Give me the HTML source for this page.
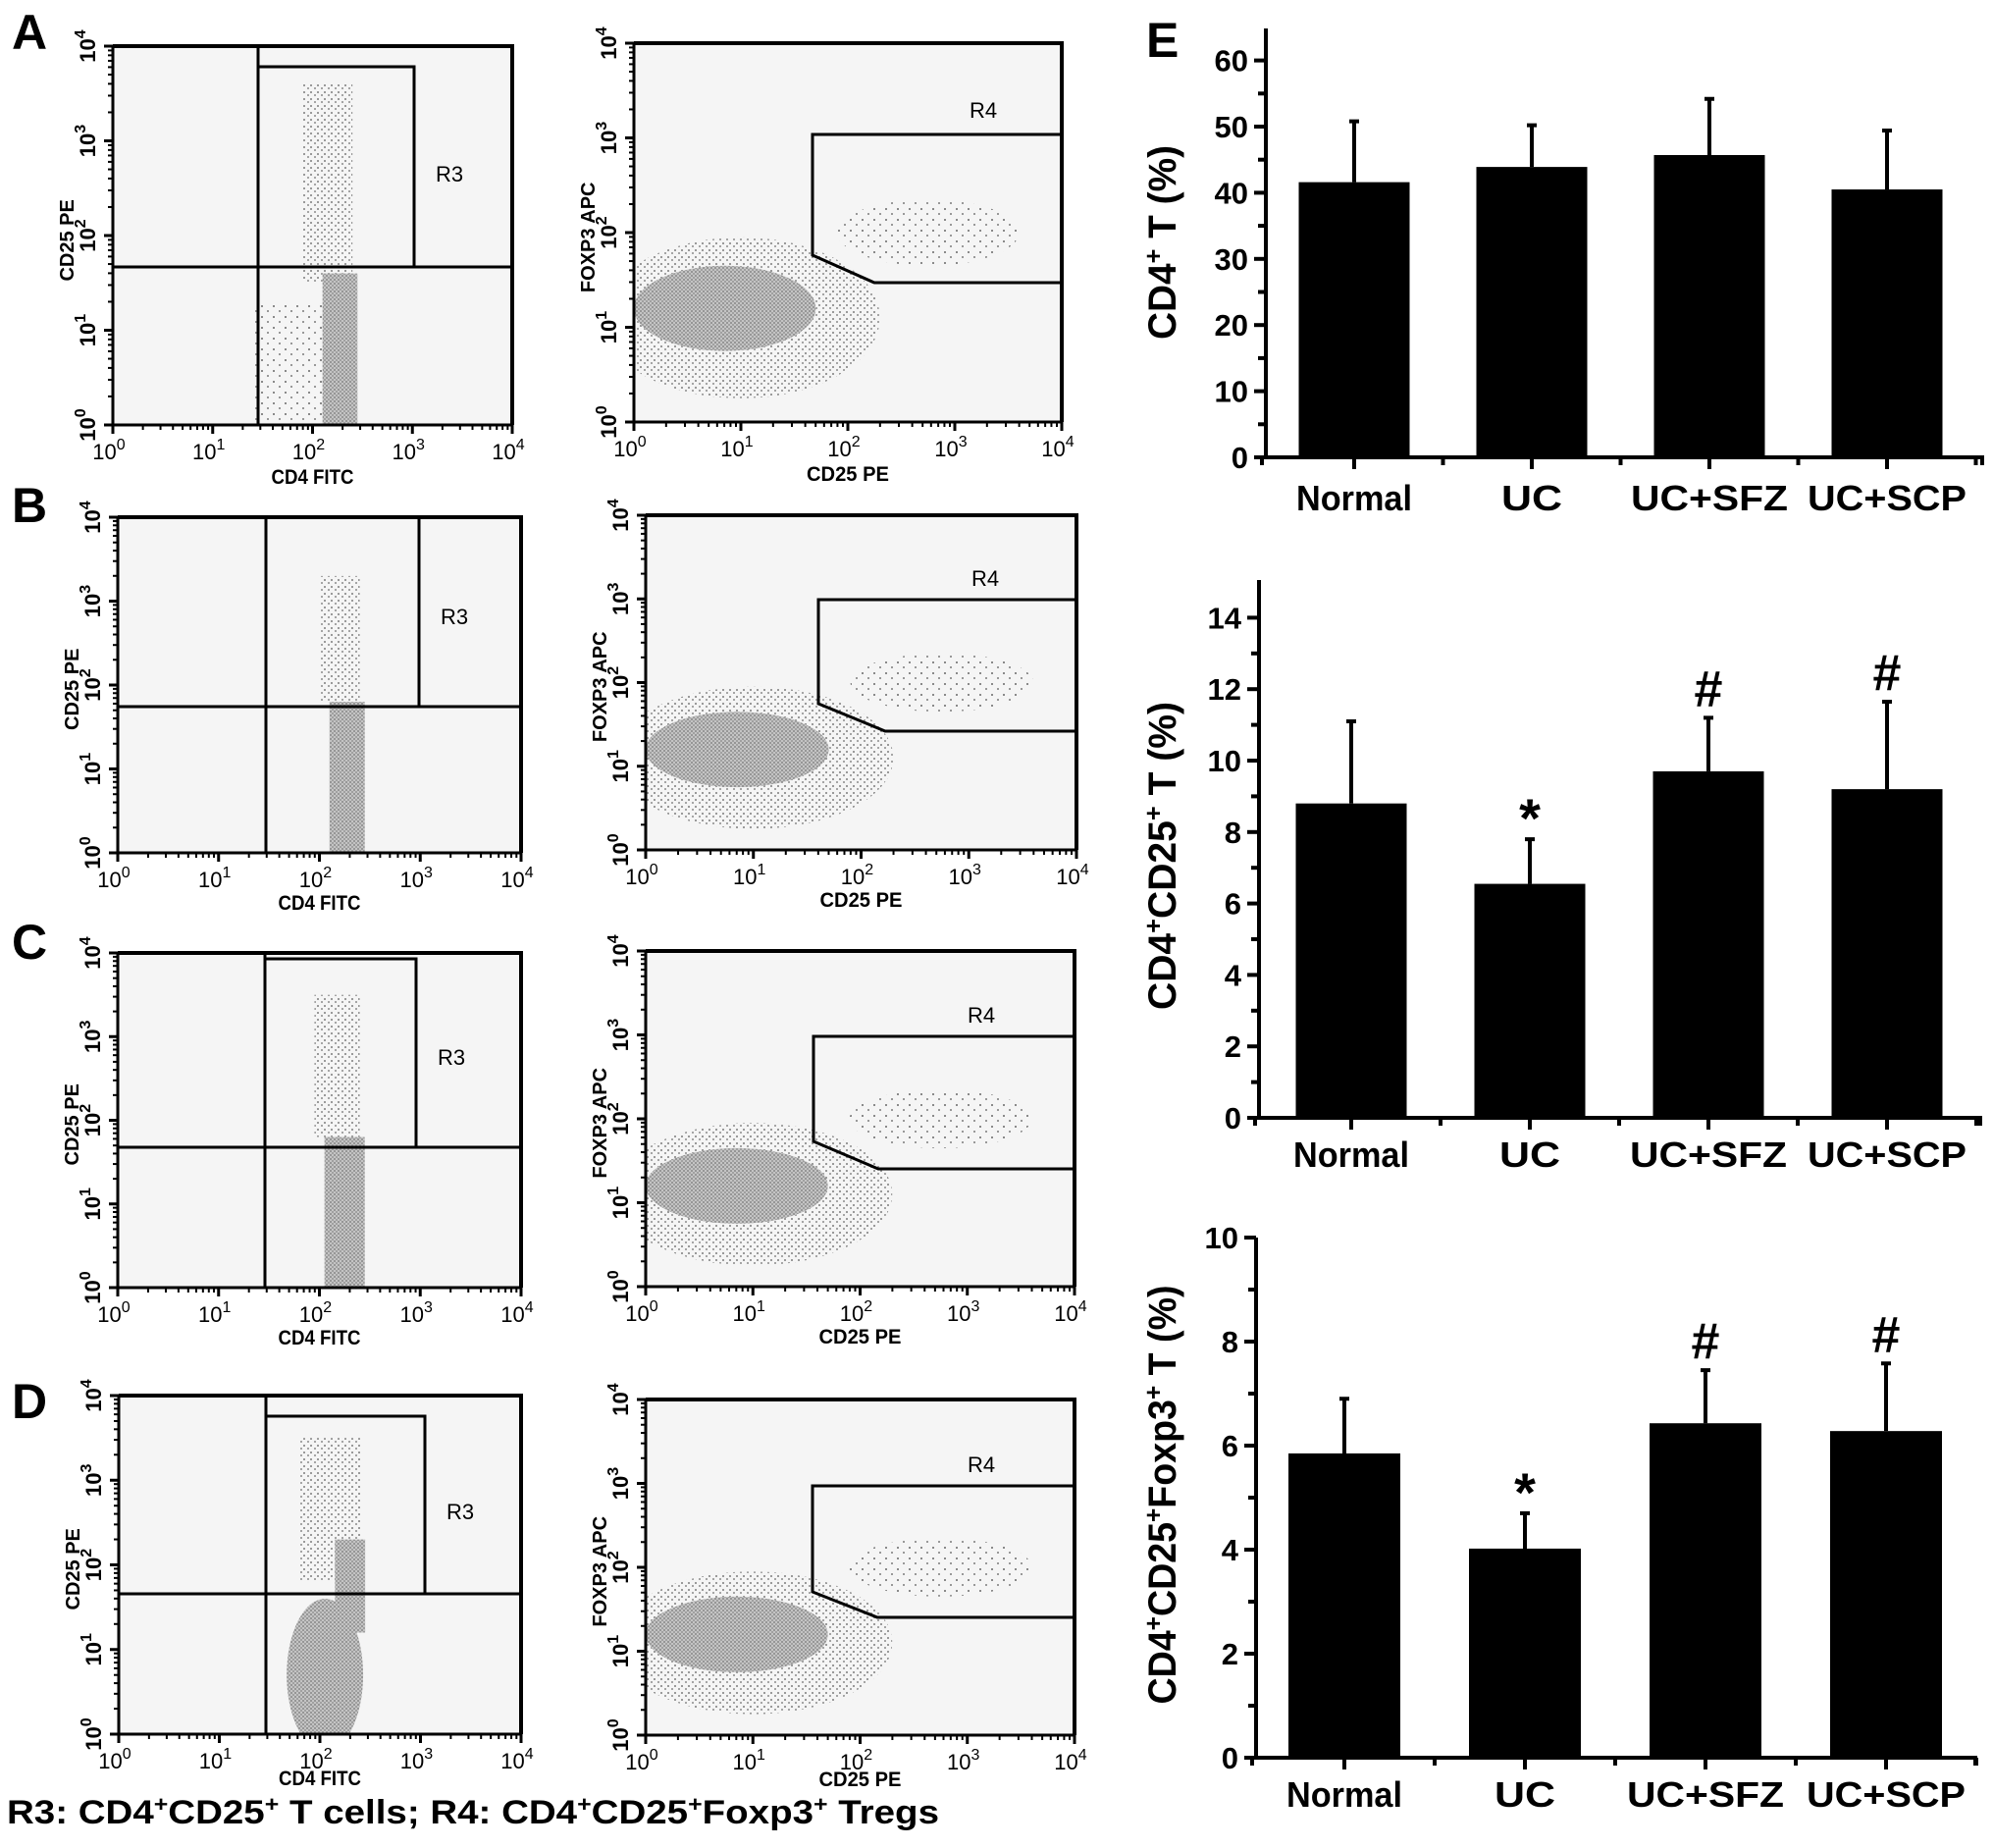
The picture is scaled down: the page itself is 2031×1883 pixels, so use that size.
<!DOCTYPE html>
<html><head><meta charset="utf-8"><style>
html,body{margin:0;padding:0;background:#fff;}
svg{display:block;}
text{font-family:"Liberation Sans",Arial,sans-serif;}
</style></head><body>
<svg id="fig" xmlns="http://www.w3.org/2000/svg" width="2031" height="1883" viewBox="0 0 2031 1883">
<defs id="defs">
<pattern id="sparse" width="7" height="7" patternUnits="userSpaceOnUse"><rect x="1" y="2" width="2" height="2" fill="#9a9a9a"/><rect x="5" y="5" width="2" height="2" fill="#a5a5a5"/></pattern>
<pattern id="dense" width="4" height="4" patternUnits="userSpaceOnUse"><rect width="4" height="4" fill="#c4c4c4"/><rect x="0" y="0" width="2" height="2" fill="#969696"/><rect x="2" y="2" width="2" height="2" fill="#a0a0a0"/></pattern>
<pattern id="vsparse" width="12" height="11" patternUnits="userSpaceOnUse"><rect x="2" y="3" width="2" height="2" fill="#8a8a8a"/><rect x="8" y="8" width="2" height="2" fill="#999"/></pattern>
</defs>
<g id="flow"></g>
<g id="bars"></g>
<text x="7" y="1858" font-size="34" font-weight="bold" textLength="950" lengthAdjust="spacingAndGlyphs">R3: CD4<tspan font-size="22" dy="-12">+</tspan><tspan dy="12">CD25</tspan><tspan font-size="22" dy="-12">+</tspan><tspan dy="12"> T cells;  R4: CD4</tspan><tspan font-size="22" dy="-12">+</tspan><tspan dy="12">CD25</tspan><tspan font-size="22" dy="-12">+</tspan><tspan dy="12">Foxp3</tspan><tspan font-size="22" dy="-12">+</tspan><tspan dy="12"> Tregs</tspan></text>
</svg>
<script>
// ---------- Bar chart data ----------
const categories = ["Normal", "UC", "UC+SFZ", "UC+SCP"];
const cd4Mean = [41.6, 43.9, 45.7, 40.5];
const cd4Err = [9.2, 6.3, 8.5, 8.9];
const cd4Ticks = [0, 10, 20, 30, 40, 50, 60];
const cd25Mean = [8.8, 6.55, 9.7, 9.2];
const cd25Err = [2.3, 1.25, 1.5, 2.45];
const cd25Ticks = [0, 2, 4, 6, 8, 10, 12, 14];
const cd25Sig = ["", "*", "#", "#"];
const tregMean = [5.85, 4.02, 6.43, 6.28];
const tregErr = [1.05, 0.68, 1.02, 1.3];
const tregTicks = [0, 2, 4, 6, 8, 10];
const tregSig = ["", "*", "#", "#"];
const decadeLabels = ["0", "1", "2", "3", "4"];

const NS = "http://www.w3.org/2000/svg";
function mk(tag, attrs, parent) {
  const e = document.createElementNS(NS, tag);
  for (const k in attrs) e.setAttribute(k, attrs[k]);
  parent.appendChild(e);
  return e;
}

// ---------- Bar charts ----------
const barsG = document.getElementById("bars");
function barChart(cfg, means, errs, ticks, sig, titleParts, name) {
  const g = mk("g", {}, barsG);
  
  
  const yScale = v => cfg.y0 - v * cfg.unit;
  const xScale = i => cfg.c0 + i * cfg.step;
  means.forEach((m, i) => {
    const r = mk("rect", {x: xScale(i) - cfg.bw / 2, y: yScale(m), width: cfg.bw, height: cfg.y0 - yScale(m), fill: "#000"}, g);
    
    
    const top = yScale(m + errs[i]);
    const eb = mk("path", {d: `M${xScale(i)} ${yScale(m)}V${top}M${xScale(i) - 5} ${top}H${xScale(i) + 5}`, stroke: "#000", "stroke-width": 4, fill: "none"}, g);
    
    
    if (sig && sig[i]) {
      const s = mk("text", {x: xScale(i), y: top - (sig[i] === "*" ? 2 : 12), "font-size": sig[i] === "*" ? 56 : 52, "font-weight": "bold", "text-anchor": "middle"}, g);
      s.textContent = sig[i];
      
      
    }
  });
  const ya = mk("path", {d: `M${cfg.ax} ${cfg.y0 + 2}V${cfg.top}`, stroke: "#000", "stroke-width": 4, fill: "none"}, g);
  
  
  const stepV = ticks[1] - ticks[0];
  ticks.forEach((t, k) => {
    mk("path", {d: `M${cfg.ax - 12} ${yScale(t)}H${cfg.ax}`, stroke: "#000", "stroke-width": 4}, g);
    if (k < ticks.length - 1) mk("path", {d: `M${cfg.ax - 8} ${yScale(t + stepV / 2)}H${cfg.ax}`, stroke: "#000", "stroke-width": 4}, g);
    const tl = mk("text", {x: cfg.ax - 18, y: yScale(t) + 11, "font-size": 31, "font-weight": "bold", "text-anchor": "end"}, g);
    tl.textContent = t;
    
    
  });
  const xa = mk("path", {d: `M${cfg.ax - 6} ${cfg.y0}H${cfg.xEnd}`, stroke: "#000", "stroke-width": 4, fill: "none"}, g);
  
  
  for (let i = 0; i < categories.length; i++) {
    mk("path", {d: `M${xScale(i)} ${cfg.y0}v12`, stroke: "#000", "stroke-width": 4}, g);
    mk("path", {d: `M${xScale(i) + cfg.step / 2} ${cfg.y0}v8`, stroke: "#000", "stroke-width": 4}, g);
    const cl = mk("text", {x: xScale(i), y: cfg.lab, "font-size": 36, "font-weight": "bold", "text-anchor": "middle", textLength: [118, 62, 160, 162][i], lengthAdjust: "spacingAndGlyphs"}, g);
    cl.textContent = categories[i];
    
    
  }
  mk("path", {d: `M${cfg.ax - 4} ${cfg.y0}v8`, stroke: "#000", "stroke-width": 4}, g);
  mk("path", {d: `M${cfg.xEnd - 2} ${cfg.y0}v8`, stroke: "#000", "stroke-width": 4}, g);
  const tt = mk("text", {x: 0, y: 0, transform: `translate(${cfg.tx},${cfg.ty}) rotate(-90)`, "font-size": 40, "font-weight": "bold", "text-anchor": "middle", textLength: cfg.tlen, lengthAdjust: "spacingAndGlyphs"}, g);
  
  
  titleParts.forEach(p => {
    const ts = mk("tspan", {}, tt);
    if (p.sup) { ts.setAttribute("font-size", "26"); ts.setAttribute("dy", "-14"); }
    else if (p.after) { ts.setAttribute("dy", "14"); }
    ts.textContent = p.t;
  });
}
barChart({ax: 1290, y0: 466, unit: 6.74, top: 29, xEnd: 2022, c0: 1380, step: 181, bw: 113, lab: 520, tx: 1198, ty: 247, tlen: 198},
  cd4Mean, cd4Err, cd4Ticks, null,
  [{t: "CD4"}, {t: "+", sup: 1}, {t: " T (%)", after: 1}], "cd4-bar-chart");
barChart({ax: 1283, y0: 1139, unit: 36.4, top: 591, xEnd: 2020, c0: 1377, step: 182, bw: 113, lab: 1189, tx: 1198, ty: 872, tlen: 314},
  cd25Mean, cd25Err, cd25Ticks, cd25Sig,
  [{t: "CD4"}, {t: "+", sup: 1}, {t: "CD25", after: 1}, {t: "+", sup: 1}, {t: " T (%)", after: 1}], "cd25-bar-chart");
barChart({ax: 1280, y0: 1791, unit: 53, top: 1261, xEnd: 2015, c0: 1370, step: 184, bw: 114, lab: 1841, tx: 1198, ty: 1523, tlen: 427},
  tregMean, tregErr, tregTicks, tregSig,
  [{t: "CD4"}, {t: "+", sup: 1}, {t: "CD25", after: 1}, {t: "+", sup: 1}, {t: "Foxp3", after: 1}, {t: "+", sup: 1}, {t: " T (%)", after: 1}], "treg-bar-chart");

// ---------- Flow cytometry panels ----------
const flowG = document.getElementById("flow");
const defs = document.getElementById("defs");
const leftClouds = {
  A: [["r", 1.4, 0, 2.1, 1.3, "url(#vsparse)"], ["r", 1.9, 1.5, 2.4, 3.6, "url(#sparse)"], ["r", 2.1, 0, 2.45, 1.6, "url(#dense)"]],
  B: [["r", 2.0, 1.8, 2.4, 3.3, "url(#sparse)"], ["r", 2.1, 0, 2.45, 1.8, "url(#dense)"]],
  C: [["r", 1.95, 1.8, 2.4, 3.5, "url(#sparse)"], ["r", 2.05, 0, 2.45, 1.8, "url(#dense)"]],
  D: [["r", 1.8, 1.8, 2.4, 3.5, "url(#sparse)"], ["e", 2.05, 0.7, 0.38, 0.9, "url(#dense)"], ["r", 2.15, 1.2, 2.45, 2.3, "url(#dense)"]]
};
const rightClouds = [["e", 1.0, 1.1, 1.3, 0.85, "url(#sparse)"], ["e", 2.75, 2.0, 0.85, 0.35, "url(#vsparse)"], ["e", 0.85, 1.2, 0.85, 0.45, "url(#dense)"]];

let clipN = 0;
function flowPanel(b, kind, gate, clouds, labels, name, titleOff) {
  const g = mk("g", {}, flowG);
  
  
  const W = b.x1 - b.x0, H = b.y1 - b.y0;
  const X = u => b.x0 + u / 4 * W, Y = v => b.y1 - v / 4 * H;
  const cid = "clip" + (clipN++);
  const cp = mk("clipPath", {id: cid}, defs);
  mk("rect", {x: b.x0, y: b.y0, width: W, height: H}, cp);
  mk("rect", {x: b.x0, y: b.y0, width: W, height: H, fill: "#f5f5f5"}, g);
  const cg = mk("g", {"clip-path": `url(#${cid})`}, g);
  clouds.forEach(c => {
    let el;
    if (c[0] === "r") el = mk("rect", {x: X(c[1]), y: Y(c[4]), width: X(c[3]) - X(c[1]), height: Y(c[2]) - Y(c[4]), fill: c[5]}, cg);
    else el = mk("ellipse", {cx: X(c[1]), cy: Y(c[2]), rx: c[3] / 4 * W, ry: c[4] / 4 * H, fill: c[5]}, cg);
    
    
  });
  mk("rect", {x: b.x0, y: b.y0, width: W, height: H, fill: "none", stroke: "#000", "stroke-width": 3}, g);
  mk("path", {d: `M${b.x0} ${b.y0}H${b.x1}V${b.y1}`, stroke: "#000", "stroke-width": 4, fill: "none"}, g);
  const gp = mk("path", {d: gate, stroke: "#000", "stroke-width": 3, fill: "none"}, g);
  
  
  const gl = mk("text", {x: labels.x, y: labels.y, "font-size": 22}, g);
  gl.textContent = kind === "L" ? "R3" : "R4";
  
  
  for (let d = 0; d <= 4; d++) {
    mk("path", {d: `M${X(d)} ${b.y1}v9`, stroke: "#000", "stroke-width": 3}, g);
    mk("path", {d: `M${b.x0} ${Y(d)}h-9`, stroke: "#000", "stroke-width": 3}, g);
    if (d < 4) for (let k = 2; k <= 9; k++) {
      const f = d + Math.log10(k);
      mk("path", {d: `M${X(f)} ${b.y1}v5`, stroke: "#000", "stroke-width": 2}, g);
      mk("path", {d: `M${b.x0} ${Y(f)}h-5`, stroke: "#000", "stroke-width": 2}, g);
    }
    const xl = mk("text", {x: X(d) - 4, y: b.y1 + 35, "font-size": 22, "text-anchor": "middle"}, g);
    xl.textContent = "10";
    const sp = mk("tspan", {"font-size": 16, dy: -10}, xl); sp.textContent = decadeLabels[d];
    
    
    const yl = mk("text", {x: 0, y: 0, transform: `translate(${b.x0 - 18},${Y(d)}) rotate(-90)`, "font-size": 22, "text-anchor": "middle", "font-weight": "bold"}, g);
    yl.textContent = "10";
    const sp2 = mk("tspan", {"font-size": 16, dy: -10}, yl); sp2.textContent = decadeLabels[d];
    
    
  }
  const xt = mk("text", {x: X(2), y: b.y1 + titleOff, "font-size": 21, "font-weight": "bold", "text-anchor": "middle", textLength: 84, lengthAdjust: "spacingAndGlyphs"}, g);
  xt.textContent = kind === "L" ? "CD4 FITC" : "CD25 PE";
  
  
  const yt = mk("text", {x: 0, y: 0, transform: `translate(${b.x0 - 40},${Y(1.95)}) rotate(-90)`, "font-size": 20, "font-weight": "bold", "text-anchor": "middle"}, g);
  yt.textContent = kind === "L" ? "CD25 PE" : "FOXP3 APC";
  
  
}

const rows = [
  {id: "A", L: {x0: 115, x1: 522, y0: 47, y1: 433}, gv: 263, gh: 272, r3t: 68, r3r: 422, r3l: [444, 185],
   R: {x0: 646, x1: 1082, y0: 44, y1: 430}, r4t: 137, r4l: 828, s1: 260, s2x: 891, s2y: 288, r4lab: [988, 120], ly: 50, to: 60},
  {id: "B", L: {x0: 120, x1: 531, y0: 527, y1: 869}, gv: 271, gh: 720, r3t: 527, r3r: 427, r3l: [449, 636],
   R: {x0: 658, x1: 1097, y0: 525, y1: 866}, r4t: 611, r4l: 834, s1: 717, s2x: 902, s2y: 745, r4lab: [990, 597], ly: 532, to: 58},
  {id: "C", L: {x0: 120, x1: 531, y0: 971, y1: 1312}, gv: 270, gh: 1169, r3t: 977, r3r: 424, r3l: [446, 1085],
   R: {x0: 658, x1: 1095, y0: 969, y1: 1311}, r4t: 1056, r4l: 829, s1: 1163, s2x: 895, s2y: 1191, r4lab: [986, 1042], ly: 977, to: 58},
  {id: "D", L: {x0: 121, x1: 531, y0: 1422, y1: 1767}, gv: 271, gh: 1624, r3t: 1443, r3r: 433, r3l: [455, 1548],
   R: {x0: 658, x1: 1095, y0: 1426, y1: 1768}, r4t: 1514, r4l: 828, s1: 1622, s2x: 894, s2y: 1648, r4lab: [986, 1500], ly: 1445, to: 52}
];
rows.forEach(r => {
  const L = r.L;
  const gateL = `M${r.gv} ${L.y0}V${L.y1}M${L.x0} ${r.gh}H${L.x1}M${r.gv} ${r.r3t}H${r.r3r}V${r.gh}`;
  flowPanel(L, "L", gateL, leftClouds[r.id], {x: r.r3l[0], y: r.r3l[1]}, "cd4-cd25-plot-" + r.id.toLowerCase(), r.to);
  const R = r.R;
  const gateR = `M${R.x1} ${r.r4t}H${r.r4l}V${r.s1}L${r.s2x} ${r.s2y}H${R.x1}`;
  flowPanel(R, "R", gateR, rightClouds, {x: r.r4lab[0], y: r.r4lab[1]}, "cd25-foxp3-plot-" + r.id.toLowerCase(), r.to);
  const lt = mk("text", {x: 12, y: r.ly, "font-size": 50, "font-weight": "bold"}, flowG);
  lt.textContent = r.id;
  
  
});
const e = mk("text", {x: 1168, y: 58, "font-size": 50, "font-weight": "bold"}, flowG);
e.textContent = "E";


</script>
</body></html>
